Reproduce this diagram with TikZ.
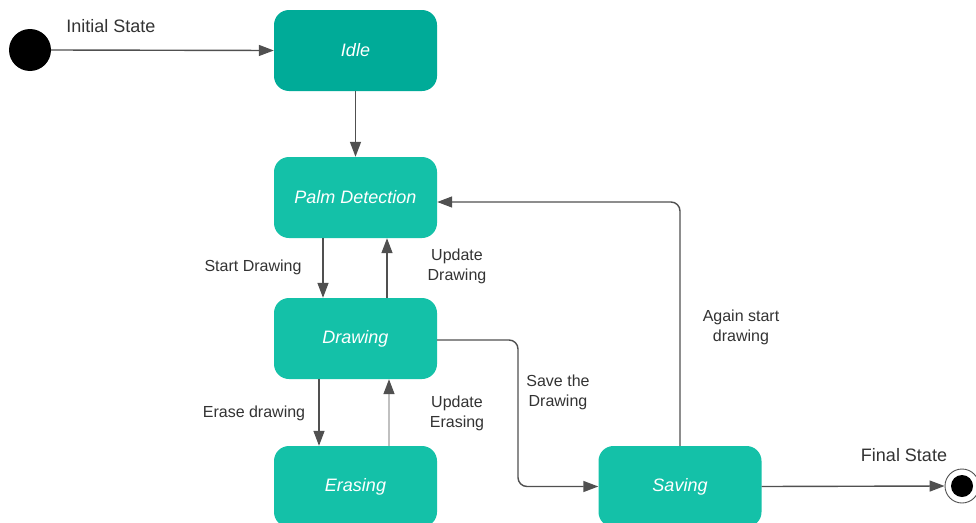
\documentclass[tikz,border=0pt]{standalone}
\usepackage{fontspec}
\setmainfont{Liberation Sans}
\usetikzlibrary{arrows.meta}
\definecolor{stateA}{HTML}{00AB98}
\definecolor{stateB}{HTML}{14C1A8}
\definecolor{wire}{HTML}{505050}
\definecolor{wirelight}{HTML}{C0C0C0}
\definecolor{labelc}{HTML}{333333}
\tikzset{
  statebox/.style={rounded corners=15pt, minimum width=163pt, minimum height=81pt, fill=stateB, text=white, font=\fontsize{18}{21}\selectfont\itshape, inner sep=0pt},
  conn/.style={draw=wire, line width=1.4pt, -{Triangle[length=15pt,width=11pt,color=wire]}, rounded corners=9pt},
  lbl/.style={text=labelc, font=\fontsize{16}{20}\selectfont, align=center, inner sep=0pt},
  biglbl/.style={text=labelc, font=\fontsize{18}{21}\selectfont, inner sep=0pt}
}
\begin{document}
\begin{tikzpicture}[x=1pt,y=-1pt]
\useasboundingbox (0,0) rectangle (976,522);
\fill[white] (0,0) rectangle (976,522);
% states
\node[statebox, fill=stateA] (idle) at (355.5,50.5) {Idle};
\node[statebox] (palm) at (355.5,197.5) {Palm Detection};
\node[statebox] (draw) at (355.5,338.5) {Drawing};
\node[statebox] (erase) at (355.5,486.5) {Erasing};
\node[statebox] (save) at (680,486.5) {Saving};
% pseudo states
\node[circle, fill=black, minimum size=42pt, inner sep=0pt] (init) at (30,50) {};
\node[circle, draw=wire, line width=0.9pt, fill=white, minimum size=34pt, inner sep=0pt] (final) at (962,486) {};
\node[circle, fill=black, minimum size=22pt, inner sep=0pt] (finaldot) at (final.center) {};
% labels
\node[biglbl] (linit) at (111,26) {Initial State};
\node[biglbl] (lfinal) at (904,455) {Final State};
\node[lbl] (lstart) at (253,267) {Start Drawing};
\node[lbl] (lupd) at (457,266) {Update\\Drawing};
\node[lbl] (lerase) at (254,413) {Erase drawing};
\node[lbl] (luper) at (457,413) {Update\\Erasing};
\node[lbl] (lsave) at (558,392) {Save the\\Drawing};
\node[lbl] (lagain) at (741,327) {Again start\\drawing};
% connectors
\draw[conn] (init.east) -- (idle.west);
\draw[conn] (idle.south) -- (palm.north);
\draw[conn] ([xshift=-32.5pt]palm.south) -- ([xshift=-32.5pt]draw.north);
\draw[conn] ([xshift=31.5pt]draw.north) -- ([xshift=31.5pt]palm.south);
\draw[conn] ([xshift=-36.5pt]draw.south) -- ([xshift=-36.5pt]erase.north);
\draw[conn, draw=wirelight] ([xshift=33.5pt]erase.north) -- ([xshift=33.5pt]draw.south);
\coordinate (c1) at (518,340);
\coordinate (c2) at (518,486.5);
\draw[conn] (draw.east |- c1) -- (c1) -- (c2) -- (save.west);
\coordinate (c3) at (680,202);
\draw[conn] (save.north) -- (c3) -- (palm.east |- c3);
\draw[conn] (save.east) -- (final.west);
\end{tikzpicture}
\end{document}
